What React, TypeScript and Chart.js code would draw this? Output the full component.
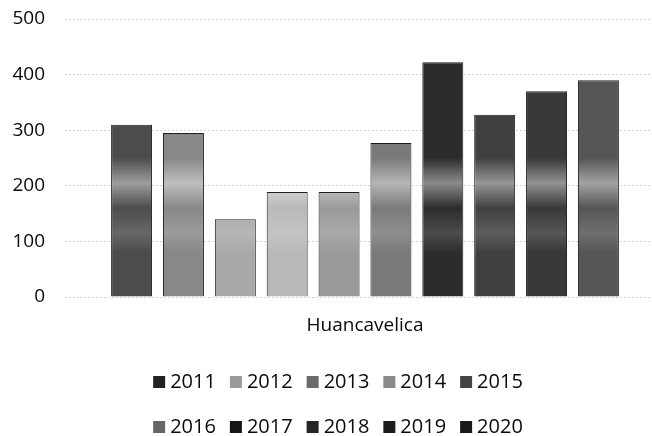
import React, { useEffect, useRef } from 'react';
import { Chart, registerables } from 'chart.js';

Chart.register(...registerables);

const categories = ['Huancavelica'];
const years = ['2011', '2012', '2013', '2014', '2015', '2016', '2017', '2018', '2019', '2020'];
const values = [310, 295, 140, 189, 189, 277, 422, 328, 370, 390];
const barColors = ['#4c4c4c', '#888888', '#a9a9a9', '#b9b9b9', '#9a9a9a', '#7a7a7a', '#2c2c2c', '#404040', '#383838', '#555555'];
const legendColors = ['#222222', '#9a9a9a', '#6a6a6a', '#8a8a8a', '#444444', '#666666', '#151515', '#252525', '#1c1c1c', '#1a1a1a'];
const yTickValues = [0, 100, 200, 300, 400, 500];

const FONT = '"Open Sans", "DejaVu Sans", sans-serif';

function lighten(hex: string, amt: number): string {
  const n = parseInt(hex.slice(1), 16);
  const r = (n >> 16) & 255, g = (n >> 8) & 255, b = n & 255;
  const f = (v: number) => Math.round(v + (255 - v) * amt);
  return `rgb(${f(r)},${f(g)},${f(b)})`;
}

const legendPlugin = {
  id: 'customLegend',
  afterDraw(chart: any) {
    const ctx = chart.ctx;
    ctx.save();
    ctx.font = `20px ${FONT}`;
    ctx.textBaseline = 'middle';
    const rows = [[0, 1, 2, 3, 4], [5, 6, 7, 8, 9]];
    const rowY = [chart.height - 54, chart.height - 9];
    const box = 12, gapBoxText = 5, gapItems = 14;
    rows.forEach((row, r) => {
      const widths = row.map((i) => box + gapBoxText + ctx.measureText(years[i]).width);
      const total = widths.reduce((a, b) => a + b, 0) + gapItems * (row.length - 1);
      let x = 338 - total / 2;
      row.forEach((i, k) => {
        ctx.fillStyle = legendColors[i];
        ctx.fillRect(x, rowY[r] - box / 2, box, box);
        ctx.fillStyle = '#0a0a0a';
        ctx.fillText(years[i], x + box + gapBoxText, rowY[r]);
        x += widths[k] + gapItems;
      });
    });
    ctx.restore();
  },
};

export default function App() {
  const ref = useRef<HTMLCanvasElement | null>(null);

  useEffect(() => {
    document.body.style.margin = '0';
    const canvas = ref.current!;
    const chart = new Chart(canvas, {
      type: 'bar',
      data: {
        labels: categories,
        datasets: years.map((y, i) => ({
          label: y,
          data: [values[i]],
          backgroundColor: (c: any) => {
            const { chart: ch } = c;
            const area = ch.chartArea;
            const base = barColors[i];
            if (!area) return base;
            const g = ch.ctx.createLinearGradient(0, area.top, 0, area.bottom);
            g.addColorStop(0, base);
            g.addColorStop(0.5, base);
            g.addColorStop(0.59, lighten(base, 0.45));
            g.addColorStop(0.68, base);
            g.addColorStop(0.77, lighten(base, 0.15));
            g.addColorStop(0.84, base);
            g.addColorStop(1, base);
            return g;
          },
          borderColor: '#1e1e1e',
          borderWidth: 1,
          categoryPercentage: 0.91,
          barPercentage: 0.79,
        })),
      },
      options: {
        animation: false,
        responsive: false,
        maintainAspectRatio: false,
        layout: { padding: { top: 0, right: 2, left: 0, bottom: 89 } },
        plugins: {
          legend: { display: false },
          tooltip: { enabled: false },
        },
        scales: {
          x: {
            grid: { display: false },
            border: { display: false },
            ticks: {
              color: '#0a0a0a',
              font: { family: FONT, size: 19 },
              padding: 9,
            },
            afterFit: (s: any) => {
              s.height = 50;
            },
          },
          y: {
            min: 0,
            max: 500,
            afterBuildTicks: (s: any) => {
              s.ticks = yTickValues.map((v) => ({ value: v }));
            },
            grid: {
              color: '#d4d4d4',
              lineWidth: 1,
              drawTicks: true,
              tickLength: 15,
              tickBorderDash: [2, 2],
            },
            border: { display: false, dash: [2, 2] },
            ticks: {
              color: '#0a0a0a',
              font: { family: FONT, size: 19 },
              padding: 20,
            },
            afterFit: (s: any) => {
              s.width = 80;
              s.paddingTop = 19;
              s.paddingBottom = 0;
            },
          },
        },
      },
      plugins: [legendPlugin],
    });
    return () => chart.destroy();
  }, []);

  return (
    <div style={{ width: 652, height: 436 }}>
      <canvas ref={ref} width={652} height={436} style={{ display: 'block' }} />
    </div>
  );
}
